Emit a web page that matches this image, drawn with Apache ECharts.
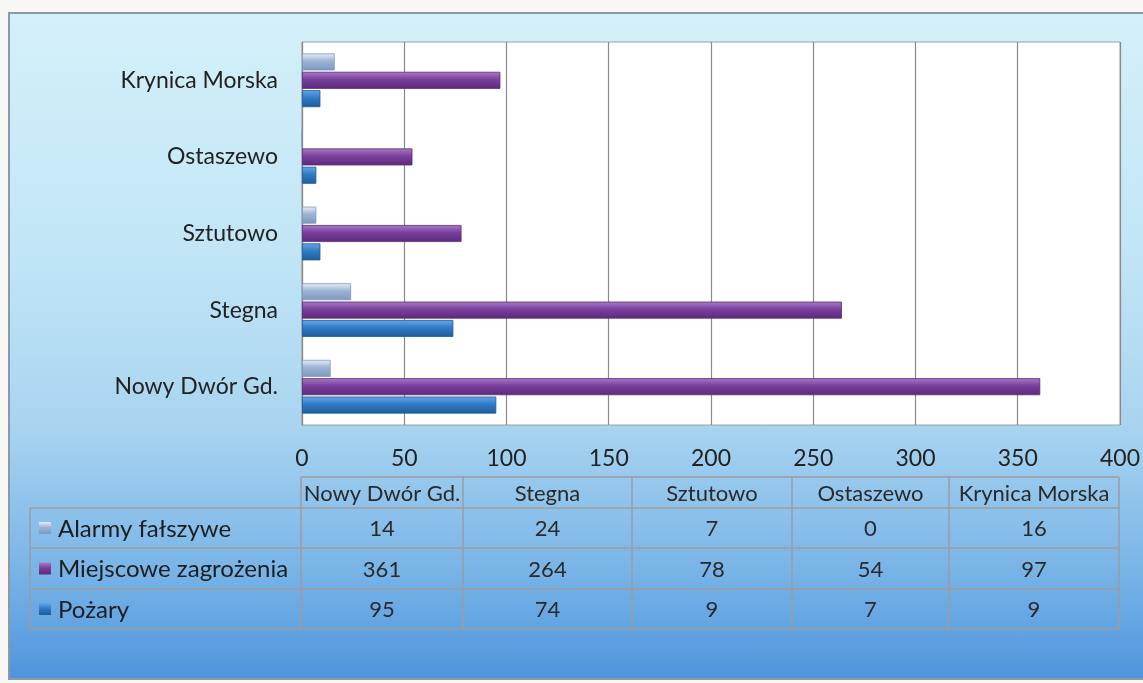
<!DOCTYPE html>
<html>
<head>
<meta charset="utf-8">
<script src="https://cdn.jsdelivr.net/npm/echarts@6/dist/echarts.min.js"></script>
<style>
  html, body { margin: 0; padding: 0; background: #f7f7f5; }
  #frame {
    position: absolute; left: 8px; top: 12px; width: 1133px; height: 664px;
    border: 2px solid #8d9aa3;
    background: linear-gradient(to bottom, #d4f0fa 0%, #c2e6f6 35%, #a9d4f0 62%, #7db7e8 82%, #4f95dd 100%);
  }
  #main { position: absolute; left: 0; top: 0; width: 1143px; height: 683px; }
</style>
</head>
<body>
<div id="frame"></div>
<div id="main"></div>
<script>
// dane z wykresu
const gminy = ['Nowy Dwór Gd.', 'Stegna', 'Sztutowo', 'Ostaszewo', 'Krynica Morska'];
const alarmy = [14, 24, 7, 0, 16];
const miejscowe = [361, 264, 78, 54, 97];
const pozary = [95, 74, 9, 7, 9];
const xTicks = [0, 50, 100, 150, 200, 250, 300, 350, 400];

const FONT = 'Lato';
const kolory = {
  alarmy: ['#e6eef8', '#9cb3d3', '#7d98bf'],
  miejscowe: ['#a77cc6', '#7a3f9d', '#5b2a7a'],
  pozary: ['#62a8e6', '#2f7cc6', '#1f5c99']
};

function grad(c) {
  return new echarts.graphic.LinearGradient(0, 0, 0, 1, [
    { offset: 0, color: c[0] },
    { offset: 0.45, color: c[1] },
    { offset: 1, color: c[2] }
  ]);
}

const myChart = echarts.init(document.getElementById('main'));

// tabela danych pod wykresem
const colX = [301, 463, 632, 792, 949, 1119];
const rowY = [477, 508, 548, 589, 629];
const tableLeft = 30;
const lineColor = '#9c9c9c';
const rows = [
  { name: 'Alarmy fałszywe', data: alarmy, c: kolory.alarmy },
  { name: 'Miejscowe zagrożenia', data: miejscowe, c: kolory.miejscowe },
  { name: 'Pożary', data: pozary, c: kolory.pozary }
];
const graphics = [];
// linie poziome
graphics.push({ type: 'line', shape: { x1: colX[0], y1: rowY[0], x2: colX[5], y2: rowY[0] }, style: { stroke: lineColor, lineWidth: 1.5 } });
for (let i = 1; i < rowY.length; i++) {
  graphics.push({ type: 'line', shape: { x1: tableLeft, y1: rowY[i], x2: colX[5], y2: rowY[i] }, style: { stroke: lineColor, lineWidth: 1.5 } });
}
// linie pionowe
graphics.push({ type: 'line', shape: { x1: tableLeft, y1: rowY[1], x2: tableLeft, y2: rowY[4] }, style: { stroke: lineColor, lineWidth: 1.5 } });
colX.forEach(function (x) {
  graphics.push({ type: 'line', shape: { x1: x, y1: rowY[0], x2: x, y2: rowY[4] }, style: { stroke: lineColor, lineWidth: 1.5 } });
});
// naglowki
gminy.forEach(function (g, i) {
  graphics.push({
    type: 'text', x: (colX[i] + colX[i + 1]) / 2, y: (rowY[0] + rowY[1]) / 2 + 1,
    style: { text: g, font: '22px ' + FONT, fill: '#2a2a2a', align: 'center', verticalAlign: 'middle' }
  });
});
rows.forEach(function (r, ri) {
  const cy = (rowY[ri + 1] + rowY[ri + 2]) / 2;
  graphics.push({
    type: 'rect', shape: { x: 39, y: cy - 6, width: 12, height: 12 },
    style: { fill: grad(r.c) }
  });
  graphics.push({
    type: 'text', x: 58, y: cy + 1,
    style: { text: r.name, font: '24px ' + FONT, fill: '#1e1e1e', align: 'left', verticalAlign: 'middle' }
  });
  r.data.forEach(function (v, i) {
    graphics.push({
      type: 'text', x: (colX[i] + colX[i + 1]) / 2, y: cy + 1,
      style: { text: String(v), font: '22px ' + FONT, fill: '#2a2a2a', align: 'center', verticalAlign: 'middle' }
    });
  });
});

function barSeries(name, data, c) {
  return {
    name: name,
    type: 'bar',
    data: data,
    barWidth: 17,
    barGap: '8%',
    itemStyle: { color: grad(c), borderColor: c[2], borderWidth: 0.8 }
  };
}

const options = {
  animation: false,
  backgroundColor: 'transparent',
  grid: {
    left: 302, right: 23, top: 42, bottom: 258,
    show: true, backgroundColor: '#ffffff', borderColor: '#a0a0a0', borderWidth: 1
  },
  xAxis: {
    type: 'value', min: 0, max: 400, interval: 50,
    axisLine: { show: false }, axisTick: { show: false },
    splitLine: { lineStyle: { color: '#8a8a8a', width: 1.2 } },
    axisLabel: {
      margin: 22, fontSize: 23, fontFamily: FONT, color: '#222',
      formatter: function (v) { return xTicks.indexOf(v) >= 0 ? String(v) : ''; }
    }
  },
  yAxis: {
    type: 'category', data: gminy,
    axisLine: { lineStyle: { color: '#8a8a8a', width: 1.2 } },
    axisTick: { show: false },
    axisLabel: { margin: 24, fontSize: 23, fontFamily: FONT, color: '#222' }
  },
  series: [
    barSeries('Alarmy fałszywe', alarmy, kolory.alarmy),
    barSeries('Miejscowe zagrożenia', miejscowe, kolory.miejscowe),
    barSeries('Pożary', pozary, kolory.pozary)
  ],
  graphic: graphics
};
myChart.setOption(options);
window.onresize = function () {
  myChart.resize();
};
</script>
</body>
</html>
